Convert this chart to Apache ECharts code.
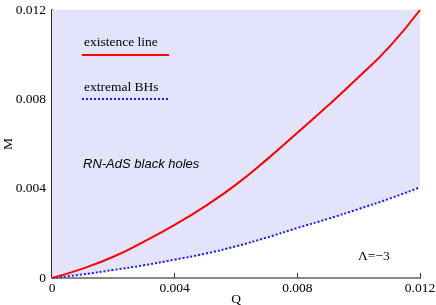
<!DOCTYPE html>
<html>
<head>
<meta charset="utf-8">
<script src="https://cdn.jsdelivr.net/npm/echarts@6/dist/echarts.min.js"></script>
<style>html,body{margin:0;padding:0;background:#fff}#c{width:436px;height:305px}</style>
</head>
<body>
<div id="c"></div>
<script>
var Q = [0, 0.001, 0.002, 0.003, 0.004, 0.005, 0.006, 0.007, 0.008, 0.009, 0.010, 0.011, 0.012];
var existenceM = [0, 0.00042, 0.00095, 0.00163, 0.00238, 0.00322, 0.00418, 0.00530, 0.00650, 0.00772, 0.00900, 0.01035, 0.01200];
var extremalM = [0, 0.00016, 0.00036, 0.00057, 0.00082, 0.00109, 0.00142, 0.00181, 0.00224, 0.00265, 0.00309, 0.00355, 0.00406];
var xTickLabels = ['0', '0.004', '0.008', '0.012'];
var yTickLabels = ['0', '0.004', '0.008', '0.012'];
var legendNames = ['existence line', 'extremal BHs'];
var axisNames = ['Q', 'M'];

function pairs(xs, ys) { return xs.map(function (x, i) { return [x, ys[i]]; }); }
function lab(arr) { return function (v) { return arr[Math.round(v / 0.004)]; }; }

var serif = 'Liberation Serif';
var fs = 13.5;
var chart = echarts.init(document.getElementById('c'), null, {renderer: 'canvas'});
chart.setOption({
  animation: false,
  backgroundColor: '#fff',
  grid: {left: 52, right: 16, top: 10, bottom: 27, containLabel: false, outerBoundsMode: 'none'},
  xAxis: [{
    type: 'value', min: 0, max: 0.012, interval: 0.004,
    axisLine: {lineStyle: {color: '#999', width: 2}},
    axisTick: {inside: true, length: 5, lineStyle: {color: '#333'}},
    axisLabel: {fontFamily: serif, fontSize: fs, color: '#000', margin: 3, formatter: lab(xTickLabels), showMaxLabel: true, showMinLabel: true},
    splitLine: {show: false}
  }, {
    type: 'value', position: 'top', min: 0, max: 0.012,
    axisLine: {lineStyle: {color: '#888', width: 2}},
    axisTick: {show: false}, axisLabel: {show: false}, splitLine: {show: false}
  }],
  yAxis: [{
    type: 'value', min: 0, max: 0.012, interval: 0.004,
    axisLine: {lineStyle: {color: '#444', width: 1.5}},
    axisTick: {show: false},
    axisLabel: {fontFamily: serif, fontSize: fs, color: '#000', margin: 6, formatter: lab(yTickLabels)},
    splitLine: {show: false}
  }, {
    type: 'value', position: 'right', min: 0, max: 0.012,
    axisLine: {show: true, lineStyle: {color: '#111', width: 1.5}},
    axisTick: {show: false}, axisLabel: {show: false}, splitLine: {show: false}
  }],
  series: [{
    name: legendNames[1], type: 'line', smooth: true, showSymbol: false,
    data: pairs(Q, extremalM),
    lineStyle: {color: '#1a1aff', width: 2, type: [2, 2]},
    areaStyle: {origin: 'end', color: '#e3e3fb', opacity: 1},
    z: 2
  }, {
    name: legendNames[0], type: 'line', smooth: true, showSymbol: false,
    data: pairs(Q, existenceM),
    lineStyle: {color: '#ff0000', width: 2},
    z: 3
  }],
  graphic: [
    {type: 'text', x: 236, y: 299, z: 10, style: {text: axisNames[0], font: '13.5px "Liberation Serif"', fill: '#000', align: 'center', verticalAlign: 'middle'}},
    {type: 'text', x: 8, y: 144, rotation: Math.PI / 2, z: 10, style: {text: axisNames[1], font: '13.5px "Liberation Serif"', fill: '#000', align: 'center', verticalAlign: 'middle'}},
    {type: 'text', left: 84, top: 35, z: 10, style: {text: legendNames[0], font: '13.5px "Liberation Serif"', fill: '#000'}},
    {type: 'line', z: 10, shape: {x1: 82, y1: 55, x2: 169, y2: 55}, style: {stroke: '#ff0000', lineWidth: 2}},
    {type: 'text', left: 84, top: 80, z: 10, style: {text: legendNames[1], font: '13.5px "Liberation Serif"', fill: '#000'}},
    {type: 'line', z: 10, shape: {x1: 82, y1: 99, x2: 169, y2: 99}, style: {stroke: '#1a1aff', lineWidth: 2, lineDash: [2, 2]}},
    {type: 'text', left: 83, top: 158, z: 10, style: {text: 'RN-AdS black holes', font: 'italic 13px "Liberation Sans"', fill: '#000'}},
    {type: 'text', left: 358, top: 249, z: 10, style: {text: 'Λ=−3', font: '13.5px "Liberation Serif"', fill: '#000'}}
  ]
});
</script>
</body>
</html>
